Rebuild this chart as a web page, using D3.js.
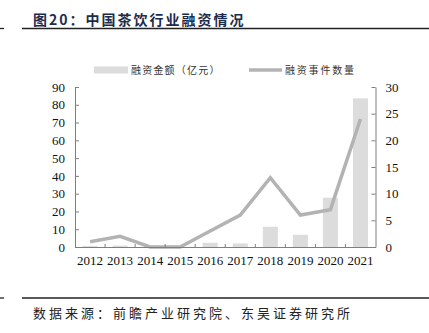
<!DOCTYPE html>
<html><head><meta charset="utf-8">
<script src="https://cdn.jsdelivr.net/npm/d3@7"></script>
<style>
body{margin:0;background:#fff;}
svg{display:block;}
</style></head>
<body>
<svg id="c" width="429" height="333"></svg>
<script>
const years = ["2012","2013","2014","2015","2016","2017","2018","2019","2020","2021"];
const amount = [0.6, 0.8, 0, 0, 2.4, 2.0, 11.4, 6.9, 27.7, 83.6];
const events = [1, 2, 0, 0, 3, 6, 13, 6, 7, 24];
const leftTicks = [0,10,20,30,40,50,60,70,80,90];
const rightTicks = [0,5,10,15,20,25,30];
const titleText = "图20：中国茶饮行业融资情况";
const sourceText = "数据来源：前瞻产业研究院、东吴证券研究所";
const legendLabels = ["融资金额（亿元）","融资事件数量"];

const svg = d3.select("#c");
const cjk = "'Noto Sans CJK SC', sans-serif";
const serif = "'Liberation Serif', 'Times New Roman', serif";

const m = {l:75, r:375.5, t:87, b:247};
const x = d3.scaleBand().domain(years).range([m.l, m.r]).paddingInner(0.5).paddingOuter(0.25);
const xb = d3.scaleBand().domain(years).range([m.l, m.r]);
const yL = d3.scaleLinear().domain([0,90]).range([m.b, m.t]);
const yR = d3.scaleLinear().domain([0,30]).range([m.b, m.t]);

// title
svg.append("text").attr("x",33).attr("y",25).attr("font-family",cjk).attr("font-weight","bold")
  .attr("font-size",14).attr("letter-spacing",2).attr("fill","#1c2c4c").text(titleText);
svg.append("line").attr("x1",0).attr("x2",4).attr("y1",28.5).attr("y2",28.5).attr("stroke","#222").attr("stroke-width",1.3);
svg.append("line").attr("x1",22).attr("x2",429).attr("y1",28.5).attr("y2",28.5).attr("stroke","#222").attr("stroke-width",1.3);

// bottom
svg.append("line").attr("x1",0).attr("x2",4).attr("y1",298).attr("y2",298).attr("stroke","#222").attr("stroke-width",1.3);
svg.append("line").attr("x1",22).attr("x2",429).attr("y1",298).attr("y2",298).attr("stroke","#222").attr("stroke-width",1.3);
svg.append("text").attr("x",33).attr("y",318).attr("font-family",cjk)
  .attr("font-size",13).attr("letter-spacing",3).attr("fill","#222").text(sourceText);

// bars
svg.append("g").selectAll("rect").data(years).join("rect")
  .attr("x", d=>x(d)).attr("width", x.bandwidth())
  .attr("y", (d,i)=>yL(amount[i])).attr("height",(d,i)=>yL(0)-yL(amount[i]))
  .attr("fill","#dcdcdc");

// line
const line = d3.line().x((d,i)=>xb(years[i])+xb.bandwidth()/2).y(d=>yR(d));
svg.append("path").datum(events).attr("d",line).attr("fill","none")
  .attr("stroke","#b3b3b3").attr("stroke-width",3.5).attr("stroke-linejoin","miter");

// axes
const axCol = "#7f7f7f";
const gL = svg.append("g").attr("transform",`translate(${m.l},0)`)
  .call(d3.axisLeft(yL).tickValues(leftTicks).tickSizeInner(-4).tickSizeOuter(0).tickPadding(10));
const gR = svg.append("g").attr("transform",`translate(${m.r},0)`)
  .call(d3.axisRight(yR).tickValues(rightTicks).tickSizeInner(-4).tickSizeOuter(0).tickPadding(10));
const gB = svg.append("g").attr("transform",`translate(0,${m.b})`)
  .call(d3.axisBottom(xb).tickSize(0).tickPadding(9));
gB.selectAll(".tick line").remove();
// boundary ticks on x axis
svg.append("g").selectAll("line").data(years.slice(1)).join("line")
  .attr("x1",d=>xb(d)).attr("x2",d=>xb(d)).attr("y1",m.b).attr("y2",m.b-3)
  .attr("stroke",axCol).attr("stroke-width",1);
[gL,gR,gB].forEach(g=>{
  g.select(".domain").attr("stroke",axCol);
  g.selectAll(".tick line").attr("stroke",axCol);
  g.selectAll("text").attr("font-family",serif).attr("font-size",13).attr("fill","#111");
});
// legend
svg.append("rect").attr("x",94).attr("y",66.5).attr("width",34).attr("height",7).attr("fill","#dcdcdc");
svg.append("text").attr("x",131).attr("y",74).attr("font-family",cjk).attr("font-size",10)
  .attr("letter-spacing",1.2).attr("fill","#333").text(legendLabels[0]);
svg.append("line").attr("x1",249).attr("x2",282).attr("y1",70).attr("y2",70).attr("stroke","#b3b3b3").attr("stroke-width",3.5);
svg.append("text").attr("x",285).attr("y",74).attr("font-family",cjk).attr("font-size",10)
  .attr("letter-spacing",1.8).attr("fill","#333").text(legendLabels[1]);
</script>
</body></html>
